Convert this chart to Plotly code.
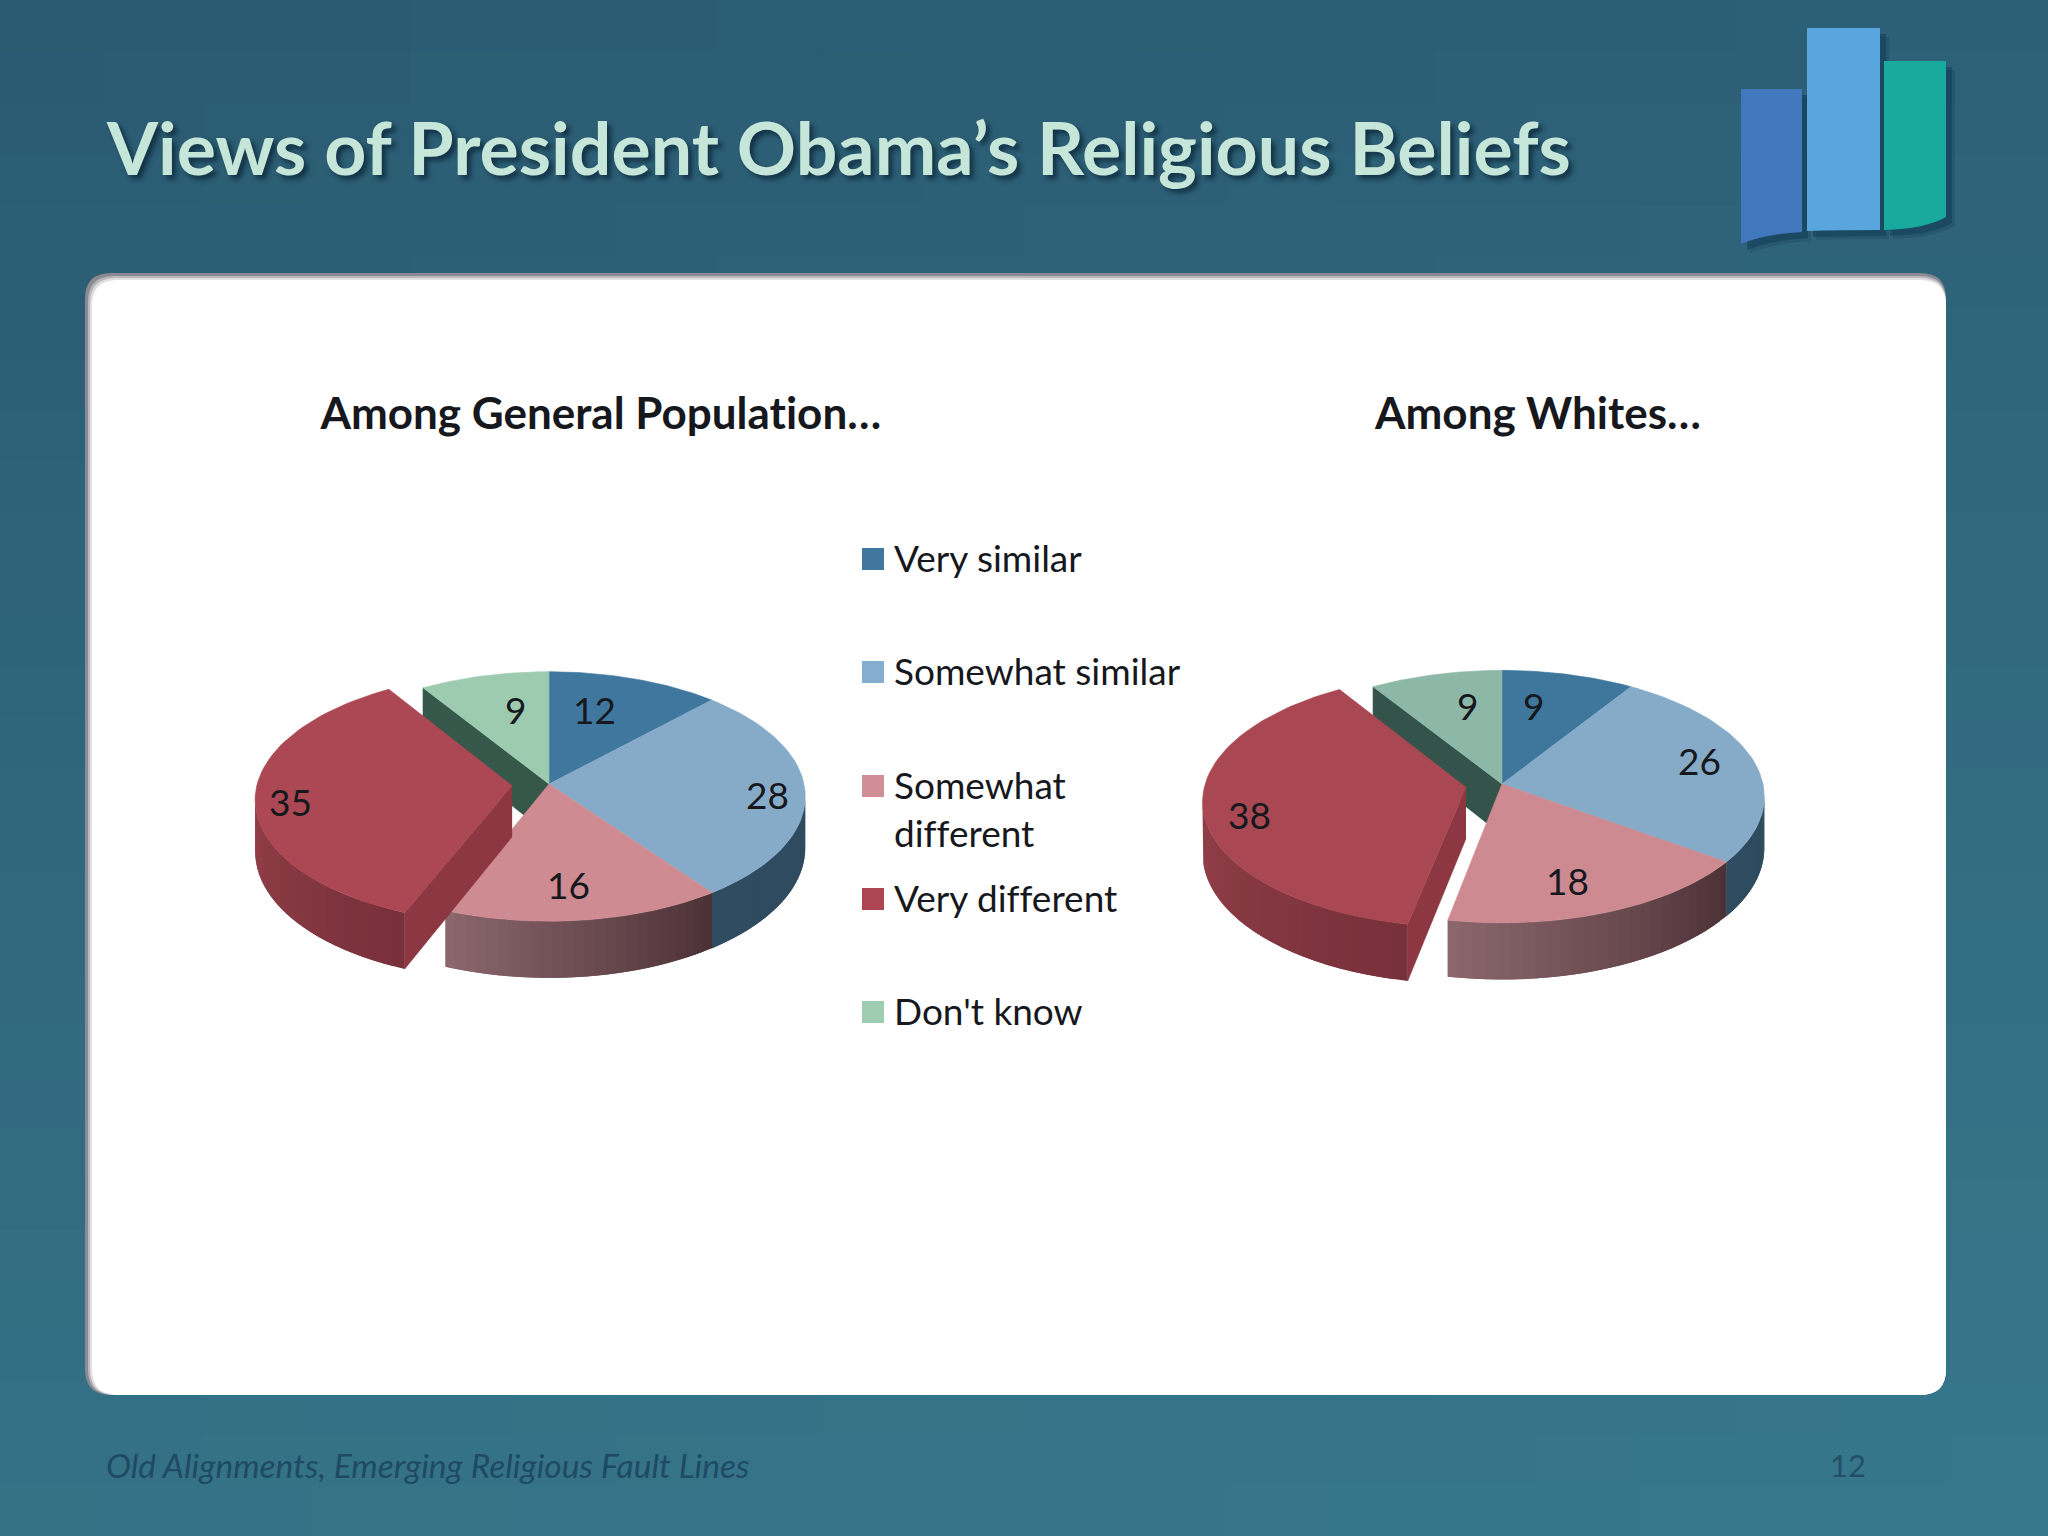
import numpy as np
import plotly.graph_objects as go

# chart data
categories = ["Very similar", "Somewhat similar", "Somewhat different", "Very different", "Don't know"]
general_pop = [12, 28, 16, 35, 9]
whites = [9, 26, 18, 38, 9]
chart_titles = ["Among General Population…", "Among Whites…"]
slide_title = "Views of President Obama’s Religious Beliefs"
footer_text = "Old Alignments, Emerging Religious Fault Lines"
page_number = "12"

# styles
TOP_COLORS = ["#3f779f", "#86abc9", "#cf8b92", "#ab4853", "#9ccbb0"]
TOP_COLORS_W = ["#3e769c", "#86abc8", "#cd8a90", "#a94852", "#8db8a8"]
GREEN_WALL = ["#35584a", "#34534b"]
SWATCHES = ["#41779e", "#85add0", "#d08e96", "#ad4552", "#9fcdb2"]
FONT = "Lato"
INK = "#16181d"
PERSP = 0.1

fig = go.Figure()


def mix(c1, c2, t):
    a = [int(c1[i:i + 2], 16) for i in (1, 3, 5)]
    b = [int(c2[i:i + 2], 16) for i in (1, 3, 5)]
    return "rgb(%d,%d,%d)" % tuple(round(a[i] + (b[i] - a[i]) * t) for i in range(3))


def project(px, X, Y, depth=0.0):
    # flat disc seen at an angle, far edge a little smaller
    s = 1 / (1 + PERSP * Y)
    return px["cx"] + px["rx"] * X * s, px["cy"] - px["ry"] * Y * s + depth * s


def poly(x, y, color, width=0.6):
    fig.add_trace(go.Scatter(x=x, y=y, mode="lines", fill="toself", fillcolor=color,
                             line=dict(color=color, width=width), hoverinfo="skip", showlegend=False))


def rim(px, a0, a1, c0, c1, off=(0, 0), n=26):
    # outer wall as strips, each one runs under the next so no seams show
    edges = np.radians(np.linspace(a0, a1, n + 1))
    for i in range(n):
        t = np.linspace(edges[i], edges[min(i + 2, n)], 4)
        X, Y = np.sin(t) + off[0], np.cos(t) + off[1]
        xt, yt = project(px, X, Y)
        xb, yb = project(px, X, Y, px["h"])
        poly(list(xt) + list(xb[::-1]), list(yt) + list(yb[::-1]), mix(c0, c1, i / (n - 1)), width=0)


def radial_wall(px, ang, color, off=(0, 0)):
    t = np.radians(ang)
    X = np.array([0, np.sin(t)]) + off[0]
    Y = np.array([0, np.cos(t)]) + off[1]
    xt, yt = project(px, X, Y)
    xb, yb = project(px, X, Y, px["h"])
    poly(list(xt) + list(xb[::-1]), list(yt) + list(yb[::-1]), color)


def top(px, a0, a1, color, off=(0, 0)):
    t = np.radians(np.linspace(a0, a1, 60))
    X = np.concatenate([[off[0]], np.sin(t) + off[0], [off[0]]])
    Y = np.concatenate([[off[1]], np.cos(t) + off[1], [off[1]]])
    x, y = project(px, X, Y)
    poly(list(x), list(y), color)


def draw_pie(values, px, colors, green_wall):
    edges = np.cumsum([0] + values) * 3.6
    a = list(edges)
    mid = np.radians((a[3] + a[4]) / 2)
    off = (px["pull"] * np.sin(mid), px["pull"] * np.cos(mid))

    radial_wall(px, a[4], green_wall)
    rim(px, 96, a[2], "#2f4a5e", "#2f4c60")
    rim(px, a[2], a[3], "#4c3237", "#8b666b")
    for i in (0, 1, 2, 4):
        top(px, a[i], a[i + 1], colors[i])

    radial_wall(px, a[3], "#8c3742", off)
    rim(px, a[3], 266, "#78303a", "#934049", off)
    top(px, a[3], a[4], colors[3], off)


def rounded(x0, y0, x1, y1, r):
    return (f"M{x0 + r},{y0} L{x1 - r},{y0} Q{x1},{y0} {x1},{y0 + r} L{x1},{y1 - r} Q{x1},{y1} {x1 - r},{y1} "
            f"L{x0 + r},{y1} Q{x0},{y1} {x0},{y1 - r} L{x0},{y0 + r} Q{x0},{y0} {x0 + r},{y0} Z")


# slide background, darker top left to lighter bottom right
for col in range(20):
    for row in range(30):
        x0, y0 = col * 2048 / 20, row * 1536 / 30
        t = 0.2 * (col + 0.5) / 20 + 0.8 * (row + 0.5) / 30
        fig.add_shape(type="rect", x0=x0, x1=x0 + 104, y0=y0, y1=y0 + 53, layer="below",
                      line_width=0, fillcolor=mix("#2a5a71", "#37788c", t))

# white panel with its inner shadow on top and left
panel_layers = [(85, 273, "#8a8b92"), (88, 276, "#b8b8bd"), (90, 278, "#e0e0e3"), (92, 280, "#ffffff")]
for px0, py0, col in panel_layers:
    fig.add_shape(type="path", path=rounded(px0, py0, 1946, 1395, 26), layer="below", line_width=0, fillcolor=col)

# logo bars, shadow first
logo = [
    ((1741, 89, 1802, 232, 244), (1765, 234), "#4177bd"),
    ((1807, 28, 1880, 230, 231), (1840, 230), "#59a5dd"),
    ((1884, 61, 1946, 217, 230), (1925, 229), "#18ab9d"),
]
for shift, alpha in ((9, 0.3), (6, 0.6)):
    for (x0, y0, x1, yr, yl), (qx, qy), col in logo:
        p = f"M{x0 + shift},{y0 + shift} L{x1 + shift},{y0 + shift} L{x1 + shift},{yr + shift} Q{qx + shift},{qy + shift} {x0 + shift},{yl + shift} Z"
        fig.add_shape(type="path", path=p, layer="below", line_width=0, fillcolor="#143f58", opacity=alpha)
for (x0, y0, x1, yr, yl), (qx, qy), col in logo:
    p = f"M{x0},{y0} L{x1},{y0} L{x1},{yr} Q{qx},{qy} {x0},{yl} Z"
    fig.add_shape(type="path", path=p, layer="below", line_width=0, fillcolor=col)

draw_pie(general_pop, dict(cx=549, cy=784, rx=255, ry=123.5, h=51, pull=0.145), TOP_COLORS, GREEN_WALL[0])
draw_pie(whites, dict(cx=1502, cy=784, rx=261, ry=125, h=51, pull=0.14), TOP_COLORS_W, GREEN_WALL[1])

# legend swatches
swatch_y = [559, 672, 786, 899, 1012]
fig.add_trace(go.Scatter(x=[873] * 5, y=swatch_y, mode="markers", hoverinfo="skip", showlegend=False,
                         marker=dict(symbol="square", size=22, color=SWATCHES, line_width=0)))

legend_lines = ["Very similar", "Somewhat similar", "Somewhat<br>different", "Very different", "Don't know"]
for name, y in zip(legend_lines, swatch_y):
    fig.add_annotation(x=891.5, y=y - 26, text=name, xanchor="left", yanchor="top", showarrow=False, align="left",
                       font=dict(family=FONT, size=37, color=INK))

# data labels
left_pos = [(594, 709), (767, 794), (568, 884), (290, 801), (515, 709)]
right_pos = [(1533, 705), (1699, 760), (1567, 880), (1249, 814), (1467, 705)]
for vals, pos in ((general_pop, left_pos), (whites, right_pos)):
    for v, (x, y) in zip(vals, pos):
        fig.add_annotation(x=x, y=y, text=str(v), showarrow=False, font=dict(family=FONT, size=37, color=INK))

fig.add_annotation(x=600, y=412, text=chart_titles[0], showarrow=False,
                   font=dict(family=FONT, size=44, color=INK, weight="bold"))
fig.add_annotation(x=1537, y=412, text=chart_titles[1], showarrow=False,
                   font=dict(family=FONT, size=44, color=INK, weight="bold"))

fig.add_annotation(x=103.5, y=146, text=slide_title, xanchor="left", showarrow=False,
                   font=dict(family=FONT, size=73.5, color="#c5e6d8", weight="bold",
                             shadow="4px 4px 5px rgba(12,40,58,0.8)"))
fig.add_annotation(x=103.5, y=1465, text=footer_text, xanchor="left", showarrow=False,
                   font=dict(family=FONT, size=33.5, color="#1f4a63", style="italic"))
fig.add_annotation(x=1848, y=1465, text=page_number, showarrow=False,
                   font=dict(family=FONT, size=31, color="#234f68"))

fig.update_layout(width=2048, height=1536, margin=dict(l=0, r=0, t=0, b=0), showlegend=False,
                  paper_bgcolor="#2f6b81", plot_bgcolor="#2f6b81",
                  xaxis=dict(range=[0, 2048], visible=False, fixedrange=True),
                  yaxis=dict(range=[1536, 0], visible=False, fixedrange=True))

page_css = ("document.body.style.margin='0';document.body.style.overflow='hidden';"
            "var st=document.createElement('style');"
            "st.textContent='text,tspan{font-variant-ligatures:none !important;font-feature-settings:\"liga\" 0,\"dlig\" 0 !important}';"
            "document.head.appendChild(st);")
fig.write_html("out.html", config=dict(displayModeBar=False), post_script=page_css)
